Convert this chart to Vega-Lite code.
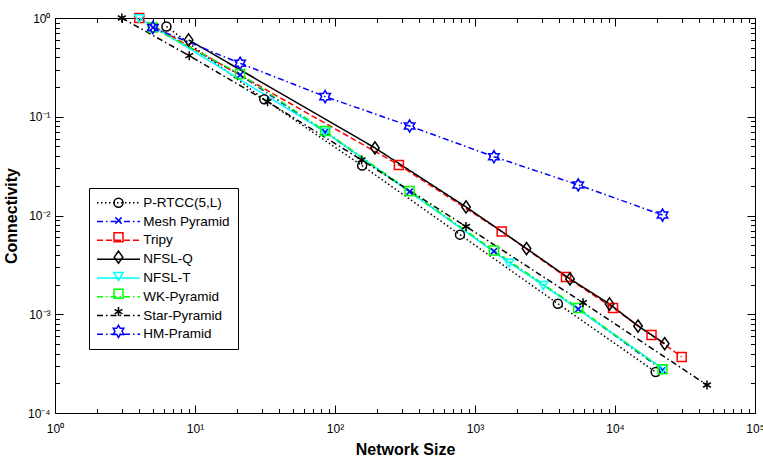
{
  "$schema": "https://vega.github.io/schema/vega-lite/v6.json",
  "width": 700,
  "height": 395,
  "autosize": {"type": "none"},
  "padding": {"left": 55, "top": 18, "right": 8, "bottom": 48},
  "background": "white",
  "config": {"view": {"stroke": null}, "font": "Liberation Sans"},
  "data": {
    "values": [
      {"series": "P-RTCC(5,L)", "size": 6.25, "conn": 0.82},
      {"series": "P-RTCC(5,L)", "size": 31.25, "conn": 0.15},
      {"series": "P-RTCC(5,L)", "size": 156.25, "conn": 0.032},
      {"series": "P-RTCC(5,L)", "size": 781.25, "conn": 0.0064},
      {"series": "P-RTCC(5,L)", "size": 3906.25, "conn": 0.00128},
      {"series": "P-RTCC(5,L)", "size": 19531.25, "conn": 0.00026},
      {"series": "Mesh Pyramid", "size": 5, "conn": 0.8},
      {"series": "Mesh Pyramid", "size": 21, "conn": 0.265},
      {"series": "Mesh Pyramid", "size": 85, "conn": 0.07},
      {"series": "Mesh Pyramid", "size": 341, "conn": 0.0174},
      {"series": "Mesh Pyramid", "size": 1365, "conn": 0.00435},
      {"series": "Mesh Pyramid", "size": 5461, "conn": 0.00113},
      {"series": "Mesh Pyramid", "size": 21845, "conn": 0.000272},
      {"series": "Tripy", "size": 4, "conn": 1.0},
      {"series": "Tripy", "size": 286, "conn": 0.0325},
      {"series": "Tripy", "size": 1551, "conn": 0.00689},
      {"series": "Tripy", "size": 4467, "conn": 0.00238},
      {"series": "Tripy", "size": 9680, "conn": 0.00116},
      {"series": "Tripy", "size": 18230, "conn": 0.000616},
      {"series": "Tripy", "size": 29950, "conn": 0.000369},
      {"series": "NFSL-Q", "size": 9, "conn": 0.6},
      {"series": "NFSL-Q", "size": 193, "conn": 0.0483},
      {"series": "NFSL-Q", "size": 863, "conn": 0.0122},
      {"series": "NFSL-Q", "size": 2333, "conn": 0.00463},
      {"series": "NFSL-Q", "size": 4770, "conn": 0.00228},
      {"series": "NFSL-Q", "size": 9140, "conn": 0.00127},
      {"series": "NFSL-Q", "size": 14600, "conn": 0.00076},
      {"series": "NFSL-Q", "size": 22650, "conn": 0.000504},
      {"series": "NFSL-T", "size": 4, "conn": 1.0},
      {"series": "NFSL-T", "size": 85, "conn": 0.0706},
      {"series": "NFSL-T", "size": 1749, "conn": 0.00334},
      {"series": "NFSL-T", "size": 3073, "conn": 0.00198},
      {"series": "NFSL-T", "size": 21845, "conn": 0.000283},
      {"series": "WK-Pyramid", "size": 5, "conn": 0.8},
      {"series": "WK-Pyramid", "size": 21, "conn": 0.271},
      {"series": "WK-Pyramid", "size": 85, "conn": 0.0717},
      {"series": "WK-Pyramid", "size": 341, "conn": 0.0177},
      {"series": "WK-Pyramid", "size": 1365, "conn": 0.00442},
      {"series": "WK-Pyramid", "size": 5461, "conn": 0.00116},
      {"series": "WK-Pyramid", "size": 21845, "conn": 0.000277},
      {"series": "Star-Pyramid", "size": 3, "conn": 1.0},
      {"series": "Star-Pyramid", "size": 9.1, "conn": 0.415},
      {"series": "Star-Pyramid", "size": 33, "conn": 0.142},
      {"series": "Star-Pyramid", "size": 155, "conn": 0.0365},
      {"series": "Star-Pyramid", "size": 863, "conn": 0.00774},
      {"series": "Star-Pyramid", "size": 5910, "conn": 0.00131},
      {"series": "Star-Pyramid", "size": 45400, "conn": 0.000192},
      {"series": "HM-Pramid", "size": 5, "conn": 0.8},
      {"series": "HM-Pramid", "size": 21, "conn": 0.348},
      {"series": "HM-Pramid", "size": 85, "conn": 0.16},
      {"series": "HM-Pramid", "size": 341, "conn": 0.0806},
      {"series": "HM-Pramid", "size": 1365, "conn": 0.0394},
      {"series": "HM-Pramid", "size": 5461, "conn": 0.0204},
      {"series": "HM-Pramid", "size": 21845, "conn": 0.0101}
    ]
  },
  "layer": [
    {
      "mark": {"type": "line", "strokeWidth": 1.5},
      "encoding": {
        "x": {
          "field": "size",
          "type": "quantitative",
          "scale": {"type": "log", "domain": [1, 100000], "nice": false},
          "axis": {
            "orient": "bottom",
            "values": [1,2,3,4,5,6,7,8,9,10,20,30,40,50,60,70,80,90,100,200,300,400,500,600,700,800,900,1000,2000,3000,4000,5000,6000,7000,8000,9000,10000,20000,30000,40000,50000,60000,70000,80000,90000,100000],
            "title": "Network Size",
            "titleFontSize": 16,
            "titleFontWeight": "bold",
            "titleColor": "#000000",
            "titlePadding": 4,
            "labelExpr": "datum.value == 1 ? '10⁰' : datum.value == 10 ? '10¹' : datum.value == 100 ? '10²' : datum.value == 1000 ? '10³' : datum.value == 10000 ? '10⁴' : datum.value == 100000 ? '10⁵' : ''",
            "labelFontSize": 12,
            "labelColor": "#000000",
            "labelPadding": 18,
            "labelOverlap": false,
            "labelFlush": false,
            "labelBound": false,
            "tickColor": "#000000",
            "tickWidth": 1,
            "tickSize": {"condition": {"test": "indexof([1,10,100,1000,10000,100000], datum.value) >= 0", "value": -8}, "value": -4.5},
            "domainColor": "#000000",
            "domainWidth": 1,
            "grid": false
          }
        },
        "y": {
          "field": "conn",
          "type": "quantitative",
          "scale": {"type": "log", "domain": [0.0001, 1], "nice": false},
          "axis": {
            "orient": "left",
            "values": [0.0001,0.0002,0.0003,0.0004,0.0005,0.0006,0.0007,0.0008,0.0009,0.001,0.002,0.003,0.004,0.005,0.006,0.007,0.008,0.009,0.01,0.02,0.03,0.04,0.05,0.06,0.07,0.08,0.09,0.1,0.2,0.3,0.4,0.5,0.6,0.7,0.8,0.9,1],
            "title": "Connectivity",
            "titleFontSize": 16,
            "titleFontWeight": "bold",
            "titleColor": "#000000",
            "titlePadding": 8,
            "labelExpr": "datum.value == 1 ? '10⁰' : datum.value == 0.1 ? '10⁻¹' : datum.value == 0.01 ? '10⁻²' : datum.value == 0.001 ? '10⁻³' : datum.value == 0.0001 ? '10⁻⁴' : ''",
            "labelFontSize": 12,
            "labelColor": "#000000",
            "labelPadding": 13,
            "labelOverlap": false,
            "labelFlush": false,
            "labelBound": false,
            "tickColor": "#000000",
            "tickWidth": 1,
            "tickSize": {"condition": {"test": "indexof([0.0001,0.001,0.01,0.1,1], datum.value) >= 0", "value": -8}, "value": -4.5},
            "domainColor": "#000000",
            "domainWidth": 1,
            "grid": false
          }
        },
        "color": {
          "field": "series",
          "type": "nominal",
          "scale": {
            "domain": ["P-RTCC(5,L)", "Mesh Pyramid", "Tripy", "NFSL-Q", "NFSL-T", "WK-Pyramid", "Star-Pyramid", "HM-Pramid"],
            "range": ["#000000", "#0000ff", "#ff0000", "#000000", "#00ffff", "#00ff00", "#000000", "#0000ff"]
          },
          "legend": {
            "orient": "none", "legendX": 34, "legendY": 170, "title": null,
            "symbolType": "M-4.3,0H4.3", "symbolSize": 100, "symbolStrokeWidth": 1.5,
            "symbolOffset": 14.75, "labelOffset": 18, "labelFontSize": 13.5, "labelColor": "#000000",
            "labelLimit": 300, "rowPadding": 3.8, "padding": 8, "strokeColor": "#000000", "cornerRadius": 0
          }
        },
        "strokeDash": {
          "field": "series",
          "type": "nominal",
          "scale": {
            "domain": ["P-RTCC(5,L)", "Mesh Pyramid", "Tripy", "NFSL-Q", "NFSL-T", "WK-Pyramid", "Star-Pyramid", "HM-Pramid"],
            "range": [[1.5, 2.5], [6, 3, 1.5, 3], [6, 3], [1, 0], [1, 0], [6, 3, 1.5, 3], [6, 3, 1.5, 3], [6, 3, 1.5, 3]]
          },
          "legend": {
            "orient": "none", "legendX": 34, "legendY": 170, "title": null,
            "symbolType": "M-4.3,0H4.3", "symbolSize": 100, "symbolStrokeWidth": 1.5,
            "symbolOffset": 14.75, "labelOffset": 18, "labelFontSize": 13.5, "labelColor": "#000000",
            "labelLimit": 300, "rowPadding": 3.8, "padding": 8, "strokeColor": "#000000", "cornerRadius": 0
          }
        }
      }
    },
    {
      "mark": {"type": "point", "filled": false, "size": 81, "strokeWidth": 1.5, "opacity": 1},
      "encoding": {
        "x": {
          "field": "size",
          "type": "quantitative",
          "axis": {
            "orient": "top",
            "values": [1,2,3,4,5,6,7,8,9,10,20,30,40,50,60,70,80,90,100,200,300,400,500,600,700,800,900,1000,2000,3000,4000,5000,6000,7000,8000,9000,10000,20000,30000,40000,50000,60000,70000,80000,90000,100000],
            "title": null,
            "labels": false,
            "tickColor": "#000000",
            "tickWidth": 1,
            "tickSize": {"condition": {"test": "indexof([1,10,100,1000,10000,100000], datum.value) >= 0", "value": -8}, "value": -4.5},
            "domainColor": "#000000",
            "domainWidth": 1,
            "grid": false
          }
        },
        "y": {
          "field": "conn",
          "type": "quantitative",
          "axis": {
            "orient": "right",
            "values": [0.0001,0.0002,0.0003,0.0004,0.0005,0.0006,0.0007,0.0008,0.0009,0.001,0.002,0.003,0.004,0.005,0.006,0.007,0.008,0.009,0.01,0.02,0.03,0.04,0.05,0.06,0.07,0.08,0.09,0.1,0.2,0.3,0.4,0.5,0.6,0.7,0.8,0.9,1],
            "title": null,
            "labels": false,
            "tickColor": "#000000",
            "tickWidth": 1,
            "tickSize": {"condition": {"test": "indexof([0.0001,0.001,0.01,0.1,1], datum.value) >= 0", "value": -8}, "value": -4.5},
            "domainColor": "#000000",
            "domainWidth": 1,
            "grid": false
          }
        },
        "stroke": {
          "field": "series",
          "type": "nominal",
          "scale": {
            "domain": ["P-RTCC(5,L)", "Mesh Pyramid", "Tripy", "NFSL-Q", "NFSL-T", "WK-Pyramid", "Star-Pyramid", "HM-Pramid", "~"],
            "range": ["#000000", "#0000ff", "#ff0000", "#000000", "#00ffff", "#00ff00", "#000000", "#0000ff", "transparent"]
          },
          "legend": {
            "orient": "none", "legendX": 34, "legendY": 170, "title": null,
            "values": ["P-RTCC(5,L)", "Mesh Pyramid", "Tripy", "NFSL-Q", "NFSL-T", "WK-Pyramid", "Star-Pyramid", "HM-Pramid"],
            "symbolSize": 81, "symbolStrokeWidth": 1.5, "symbolFillColor": "transparent",
            "symbolOffset": 14.75, "labelOffset": 18, "labelFontSize": 13.5, "labelExpr": "' '",
            "labelLimit": 300, "rowPadding": 1.8, "padding": 8
          }
        },
        "shape": {
          "field": "series",
          "type": "nominal",
          "scale": {
            "domain": ["P-RTCC(5,L)", "Mesh Pyramid", "Tripy", "NFSL-Q", "NFSL-T", "WK-Pyramid", "Star-Pyramid", "HM-Pramid", "~"],
            "range": [
            "circle",
            "M-0.7,-0.7L0.7,0.7M0.7,-0.7L-0.7,0.7",
            "square",
            "M0,-1.35L0.95,0L0,1.35L-0.95,0Z",
            "M-1.05,-0.75L1.05,-0.75L0,1Z",
            "square",
            "M0,-1V1M-0.87,-0.5L0.87,0.5M-0.87,0.5L0.87,-0.5",
            "M0,-1.35L0.39,-0.675L1.169,-0.675L0.779,0L1.169,0.675L0.39,0.675L0,1.35L-0.39,0.675L-1.169,0.675L-0.779,0L-1.169,-0.675L-0.39,-0.675Z",
            "circle"
          ]},
          "legend": {
            "orient": "none", "legendX": 34, "legendY": 170, "title": null,
            "values": ["P-RTCC(5,L)", "Mesh Pyramid", "Tripy", "NFSL-Q", "NFSL-T", "WK-Pyramid", "Star-Pyramid", "HM-Pramid"],
            "symbolSize": 81, "symbolStrokeWidth": 1.5, "symbolFillColor": "transparent",
            "symbolOffset": 14.75, "labelOffset": 18, "labelFontSize": 13.5, "labelExpr": "' '",
            "labelLimit": 300, "rowPadding": 1.8, "padding": 8
          }
        }
      }
    }
  ],
  "resolve": {"axis": {"x": "independent", "y": "independent"}}
}
